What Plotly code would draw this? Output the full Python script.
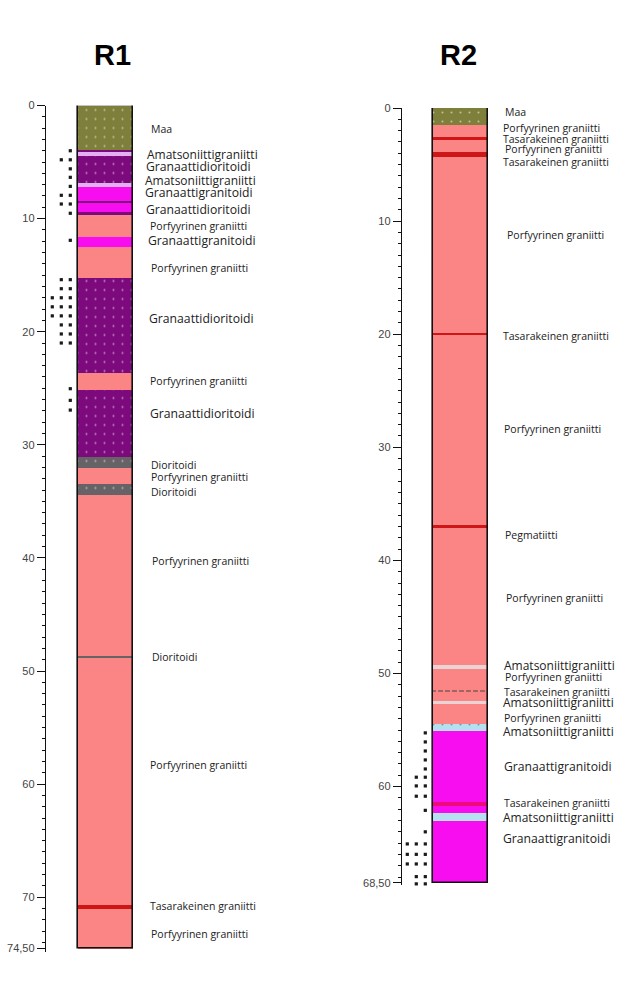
import plotly.graph_objects as go

W, H = 632, 984
OLIVE, PURPLE, MAGENTA, SALMON = "#7f7f3c", "#7d0a7d", "#f80cf0", "#fb8484"
LILAC, GREY, RED, PALE, ICE, HOT = "#e3b0f2", "#666266", "#cf1616", "#e8d4d4", "#b4e0f0", "#ee0a78"

# Drill core R1: interval tops, interval bottoms, rock fill, overprint kind (0 none, 1 pale dots, 2 dark dots, 3 dashes)
r1_top = [0, 3.87, 4.11, 4.4, 6.83, 7.18, 8.36, 8.59, 9.39, 9.65, 11.54, 12.48, 15.25, 23.6, 25.07, 31.0, 32.0, 33.4, 34.4, 48.7, 48.85, 70.65, 71.0]
r1_bot = [3.87, 4.11, 4.4, 6.83, 7.18, 8.36, 8.59, 9.39, 9.65, 11.54, 12.48, 15.25, 23.6, 25.07, 31.0, 32.0, 33.4, 34.4, 48.7, 48.85, 70.65, 71.0, 74.5]
r1_rock = [OLIVE, PURPLE, LILAC, PURPLE, LILAC, MAGENTA, PURPLE, MAGENTA, PURPLE, SALMON, MAGENTA, SALMON, PURPLE, SALMON, PURPLE, GREY, SALMON, GREY, SALMON, GREY, SALMON, RED, SALMON]
r1_over = [1, 0, 0, 1, 0, 0, 0, 0, 0, 0, 0, 0, 1, 0, 1, 1, 0, 1, 0, 0, 0, 0, 0]

# Drill core R2
r2_top = [0, 1.5, 2.54, 2.83, 3.87, 4.3, 19.85, 20.05, 36.95, 37.1, 49.26, 49.58, 51.5, 51.64, 52.4, 52.68, 54.45, 55.04, 61.35, 61.68, 62.36, 63.0]
r2_bot = [1.5, 2.54, 2.83, 3.87, 4.3, 19.85, 20.05, 36.95, 37.1, 49.26, 49.58, 51.5, 51.64, 52.4, 52.68, 54.45, 55.04, 61.35, 61.68, 62.36, 63.0, 68.5]
r2_rock = [OLIVE, SALMON, RED, SALMON, RED, SALMON, RED, SALMON, RED, SALMON, PALE, SALMON, SALMON, SALMON, PALE, SALMON, ICE, MAGENTA, HOT, MAGENTA, ICE, MAGENTA]
r2_over = [1, 0, 0, 0, 0, 0, 0, 0, 0, 0, 2, 0, 3, 0, 2, 0, 2, 0, 0, 0, 0, 0]

# Fracture-dot tallies: depth, number of dots at that depth
r1_frac_depth = [4.0, 4.8, 5.6, 6.35, 7.15, 7.94, 8.71, 9.53, 11.92, 15.4, 16.2, 17.0, 17.8, 18.6, 19.4, 20.2, 21.0, 25.04, 26.07, 26.93]
r1_frac_count = [1, 2, 1, 1, 1, 2, 2, 1, 1, 2, 2, 3, 3, 3, 2, 2, 2, 1, 1, 1]
r2_frac_depth = [55.25, 56.05, 56.85, 57.64, 58.44, 59.17, 59.94, 60.85, 62.1, 64.0, 65.07, 65.99, 66.84, 67.96, 68.6]
r2_frac_count = [1, 1, 1, 1, 1, 2, 2, 2, 1, 1, 3, 3, 3, 2, 2]

# Rock names
MAA, AMA, GD, GG, POR, DIO, TAS, PEG = ("Maa", "Amatsoniittigraniitti", "Granaattidioritoidi", "Granaattigranitoidi",
                                        "Porfyyrinen graniitti", "Dioritoidi", "Tasarakeinen graniitti", "Pegmatiitti")
r1_names = [MAA, AMA, GD, AMA, GG, GD, POR, GG, POR, GD, POR, GD, DIO, POR, DIO, POR, DIO, POR, TAS, POR]
r1_name_depth = [2.17, 4.47, 5.53, 6.77, 7.83, 9.33, 10.74, 12.07, 14.46, 18.97, 24.45, 27.37, 31.88, 32.94, 34.26, 40.36, 48.85, 58.4, 70.86, 73.34]
r2_names = [MAA, POR, TAS, POR, TAS, POR, TAS, POR, PEG, POR, AMA, POR, TAS, AMA, POR, AMA, GG, TAS, AMA, GG]
r2_name_depth = [0.44, 1.86, 2.83, 3.72, 4.87, 11.33, 20.27, 28.5, 37.89, 43.44, 49.39, 50.44, 51.79, 52.74, 54.06, 55.29, 58.39, 61.59, 62.89, 64.69]

# Layout (pixels in the 632x984 picture)
r1_name_px = [151, 147, 146, 145, 145, 146, 150, 148, 151, 149, 150, 150, 151, 151, 151, 152, 152, 150, 150, 151]
r2_name_px = [505, 503, 503, 505, 503, 507, 503, 504, 505, 506, 504, 505, 504, 503, 504, 503, 504, 504, 503, 503]
NAME_SIZE = {MAA: 10.5, AMA: 12, GD: 12.2, GG: 12.2, POR: 10.5, DIO: 10.5, TAS: 10.5, PEG: 10.5}

PANELS = [
    dict(title="R1", top=r1_top, bot=r1_bot, rock=r1_rock, over=r1_over, fd=r1_frac_depth, fc=r1_frac_count,
         names=r1_names, nd=r1_name_depth, npx=r1_name_px, end=74.5, end_text="74,50",
         col_px=78, axis_px=46, right_px=300, y0_px=105.5, axis_end=74.85, title_px=112),
    dict(title="R2", top=r2_top, bot=r2_bot, rock=r2_rock, over=r2_over, fd=r2_frac_depth, fc=r2_frac_count,
         names=r2_names, nd=r2_name_depth, npx=r2_name_px, end=68.5, end_text="68,50",
         col_px=433, axis_px=402, right_px=632, y0_px=108, axis_end=68.72, title_px=458),
]
PX_PER_M = 11.31
COL_PX = 55
DOT_STEP = 9 / COL_PX

OVERPRINT = {
    0: dict(shape="", fgcolor="#ffffff", size=9, solidity=0.04),
    1: dict(shape=".", fgcolor="#ffffff", size=9, solidity=0.04),
    2: dict(shape=".", fgcolor="#333333", size=9, solidity=0.04),
    3: dict(shape="|", fgcolor="#ff0000", size=7, solidity=0.7),
}

fig = go.Figure()
for i, p in enumerate(PANELS, start=1):
    xa, ya = ("x", "y") if i == 1 else ("x2", "y2")
    for kind, style in OVERPRINT.items():
        idx = [j for j, o in enumerate(p["over"]) if o == kind]
        if not idx:
            continue
        colors = [p["rock"][j] for j in idx]
        fig.add_trace(go.Bar(
            x=[0.5] * len(idx), y=[p["bot"][j] - p["top"][j] for j in idx], base=[p["top"][j] for j in idx],
            width=1, xaxis=xa, yaxis=ya,
            marker=dict(color=colors, line=dict(width=0), pattern=dict(bgcolor=colors, **style)),
            showlegend=False, hoverinfo="skip"))
    # column outline
    fig.add_trace(go.Bar(
        x=[0.5], y=[p["end"]], base=[0], width=1, xaxis=xa, yaxis=ya,
        marker=dict(color="rgba(0,0,0,0)", line=dict(color="#111111", width=1.6)),
        showlegend=False, hoverinfo="skip"))
    # fracture dots
    dx, dy = [], []
    for d, c in zip(p["fd"], p["fc"]):
        for k in range(c):
            dx.append(-0.14 - k * DOT_STEP)
            dy.append(d)
    fig.add_trace(go.Scatter(
        x=dx, y=dy, mode="markers", xaxis=xa, yaxis=ya, cliponaxis=False,
        marker=dict(symbol="square", size=3.2, color="#1a1a1a"), showlegend=False, hoverinfo="skip"))
    # rock names
    fig.add_trace(go.Scatter(
        x=[(v - p["col_px"]) / COL_PX for v in p["npx"]], y=p["nd"], text=p["names"],
        mode="text", textposition="middle right", xaxis=xa, yaxis=ya, cliponaxis=False,
        textfont=dict(family="Open Sans", size=[NAME_SIZE[n] for n in p["names"]], color="#222222"),
        showlegend=False, hoverinfo="skip"))

    y_top = 1 - p["y0_px"] / H
    y_bot = 1 - (p["y0_px"] + p["axis_end"] * PX_PER_M) / H
    n = "" if i == 1 else "2"
    fig.layout["xaxis" + n] = dict(
        domain=[p["axis_px"] / W, p["right_px"] / W],
        range=[(p["axis_px"] - p["col_px"]) / COL_PX, (p["right_px"] - p["col_px"]) / COL_PX],
        visible=False, anchor=ya)
    tv = list(range(0, int(p["end"]) + 1, 10)) + [p["end"]]
    fig.layout["yaxis" + n] = dict(
        domain=[y_bot, y_top], range=[p["axis_end"], 0], anchor=xa, side="left",
        showline=True, linecolor="#111111", linewidth=1.4, showgrid=False, zeroline=False,
        tickmode="array", tickvals=tv, ticktext=[str(v) for v in tv[:-1]] + [p["end_text"]],
        ticks="outside", ticklen=8, tickcolor="#111111", tickwidth=1,
        minor=dict(dtick=1, ticks="outside", ticklen=3, tickcolor="#111111", tickwidth=1, showgrid=False),
        tickfont=dict(family="Liberation Sans", size=11, color="#444444"))
    fig.add_annotation(text="<b>%s</b>" % p["title"], xref="paper", yref="paper",
                       x=p["title_px"] / W, y=1 - 55 / H, xanchor="center", yanchor="middle", showarrow=False,
                       font=dict(family="Liberation Sans", size=29, color="#000000"))

fig.update_layout(width=W, height=H, margin=dict(l=0, r=0, t=0, b=0, pad=0, autoexpand=False), autosize=False,
                  paper_bgcolor="#ffffff", plot_bgcolor="rgba(0,0,0,0)", barmode="overlay", bargap=0)
fig.write_html("out.html", config=dict(displayModeBar=False),
               post_script="document.body.style.margin='0';document.documentElement.style.overflow='hidden';")
